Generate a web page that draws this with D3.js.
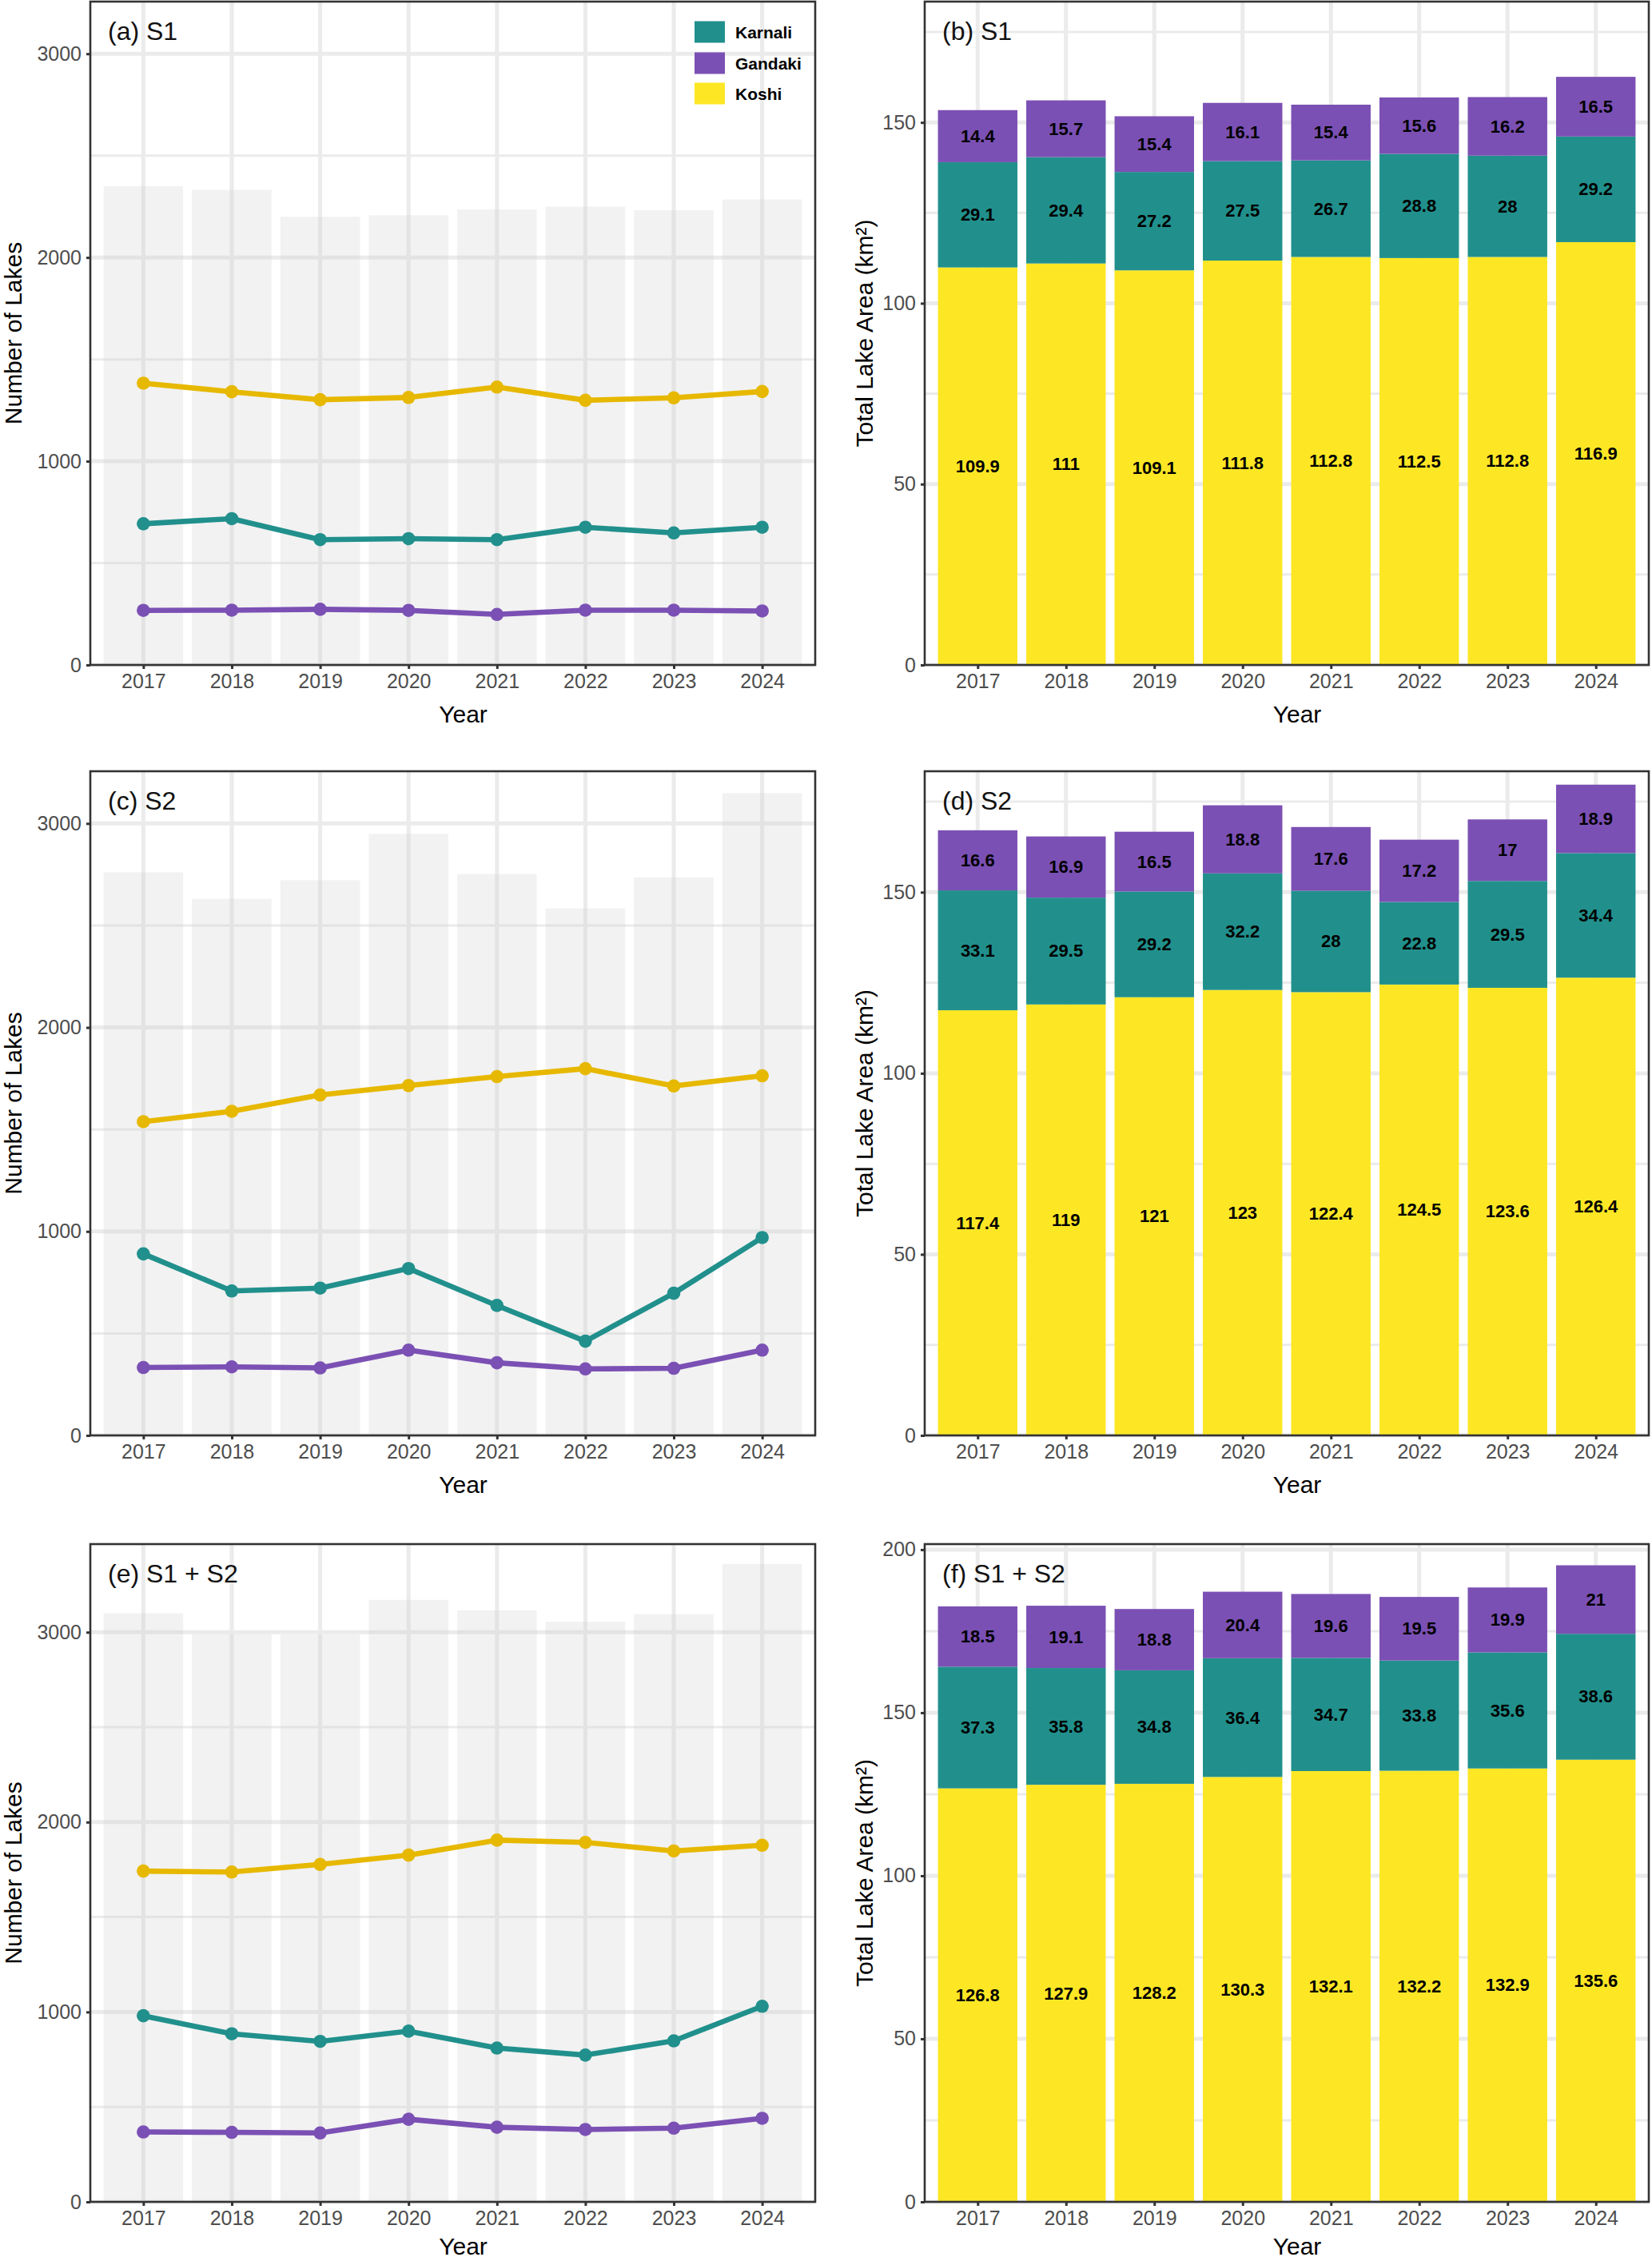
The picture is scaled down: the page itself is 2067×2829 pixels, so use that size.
<!DOCTYPE html>
<html><head><meta charset="utf-8">
<script src="https://cdn.jsdelivr.net/npm/d3@7"></script>
<style>
body{margin:0;background:#fff;}
svg text{font-family:"Liberation Sans",Arial,Helvetica,sans-serif;}
</style>
</head><body>
<svg id="chart" width="2067" height="2829"></svg>
<script>
// ---------------- DATA ----------------
const years = ["2017","2018","2019","2020","2021","2022","2023","2024"];
const basins = ["Karnali","Gandaki","Koshi"];

// Number of lakes (left panels)
const countKoshiS1   = [1383, 1341, 1302, 1313, 1364, 1299, 1311, 1342];
const countKarnaliS1 = [693, 718, 615, 620, 615, 676, 648, 676];
const countGandakiS1 = [268, 269, 273, 268, 248, 269, 269, 265];
const countTotalS1   = [2350, 2332, 2200, 2207, 2236, 2249, 2232, 2285];

const countKoshiS2   = [1538, 1589, 1669, 1715, 1759, 1798, 1713, 1763];
const countKarnaliS2 = [890, 708, 722, 818, 637, 462, 697, 970];
const countGandakiS2 = [333, 336, 331, 418, 356, 326, 329, 418];
const countTotalS2   = [2761, 2630, 2722, 2949, 2752, 2584, 2736, 3149];

const countKoshiS12   = [1742, 1737, 1777, 1826, 1905, 1893, 1848, 1878];
const countKarnaliS12 = [980, 885, 845, 899, 810, 773, 848, 1030];
const countGandakiS12 = [368, 366, 363, 435, 393, 381, 388, 440];
const countTotalS12   = [3100, 2990, 2988, 3170, 3115, 3055, 3095, 3360];

// Total lake area, km² (right panels)
const areaKoshiS1   = [109.9, 111, 109.1, 111.8, 112.8, 112.5, 112.8, 116.9];
const areaKarnaliS1 = [29.1, 29.4, 27.2, 27.5, 26.7, 28.8, 28, 29.2];
const areaGandakiS1 = [14.4, 15.7, 15.4, 16.1, 15.4, 15.6, 16.2, 16.5];

const areaKoshiS2   = [117.4, 119, 121, 123, 122.4, 124.5, 123.6, 126.4];
const areaKarnaliS2 = [33.1, 29.5, 29.2, 32.2, 28, 22.8, 29.5, 34.4];
const areaGandakiS2 = [16.6, 16.9, 16.5, 18.8, 17.6, 17.2, 17, 18.9];

const areaKoshiS12   = [126.8, 127.9, 128.2, 130.3, 132.1, 132.2, 132.9, 135.6];
const areaKarnaliS12 = [37.3, 35.8, 34.8, 36.4, 34.7, 33.8, 35.6, 38.6];
const areaGandakiS12 = [18.5, 19.1, 18.8, 20.4, 19.6, 19.5, 19.9, 21];

// Tick values
const countTicks = [0, 1000, 2000, 3000];
const countMinorTicks = [500, 1500, 2500];
const areaTicks = [0, 50, 100, 150];
const areaTicksF = [0, 50, 100, 150, 200];
const areaMinorTicks = [25, 75, 125, 175];

const panelTitles = ["(a) S1","(b) S1","(c) S2","(d) S2","(e) S1 + S2","(f) S1 + S2"];

// ---------------- STYLE / LAYOUT ----------------
const lineColor = {Karnali:"#21908C", Gandaki:"#7B50B4", Koshi:"#E7B800"};
const fillColor = {Karnali:"#21908C", Gandaki:"#7B50B4", Koshi:"#FDE725"};
const cols = [{x0:113, x1:1020}, {x0:1157, x1:2063}];
const rows = [{y0:2, y1:832}, {y0:965, y1:1796}, {y0:1932, y1:2755}];
const countMax = [3256, 3256, 3464];
const areaMax = [183.4, 183.4, 201.7];
const yearTitleOffset = [72, 72, 66];
const gridCol = "#EBEBEB";

const svg = d3.select("#chart");

function makeX(col) {
  return d3.scalePoint().domain(years).range([col.x0, col.x1]).padding(0.6);
}

function grid(g, x, y, col, row, major, minor) {
  const gg = g.append("g");
  minor.filter(v => v < y.domain()[1]).forEach(v => {
    gg.append("line").attr("x1", col.x0).attr("x2", col.x1)
      .attr("y1", y(v)).attr("y2", y(v))
      .attr("stroke", gridCol).attr("stroke-width", 3);
  });
  major.filter(v => v < y.domain()[1]).forEach(v => {
    gg.append("line").attr("x1", col.x0).attr("x2", col.x1)
      .attr("y1", y(v)).attr("y2", y(v))
      .attr("stroke", gridCol).attr("stroke-width", 5);
  });
  years.forEach(yr => {
    gg.append("line").attr("x1", x(yr)).attr("x2", x(yr))
      .attr("y1", row.y0).attr("y2", row.y1)
      .attr("stroke", gridCol).attr("stroke-width", 5);
  });
}

function axes(g, x, y, col, row, ticks) {
  const ax = g.append("g").attr("transform", `translate(0,${row.y1})`)
    .call(d3.axisBottom(x).tickSize(5).tickPadding(6));
  const ay = g.append("g").attr("transform", `translate(${col.x0},0)`)
    .call(d3.axisLeft(y).tickValues(ticks).tickFormat(d3.format("d")).tickSize(5).tickPadding(6));
  [ax, ay].forEach(a => {
    a.select(".domain").remove();
    a.selectAll(".tick line").attr("stroke", "#333333").attr("stroke-width", 3);
    a.selectAll(".tick text").attr("fill", "#4D4D4D").attr("font-size", 25)
      .attr("font-family", "'Liberation Sans', Arial, sans-serif");
  });
}

function frame(g, r, col, row, title, ytitle, ytitleX) {
  g.append("rect").attr("x", col.x0).attr("y", row.y0)
    .attr("width", col.x1 - col.x0).attr("height", row.y1 - row.y0)
    .attr("fill", "none").attr("stroke", "#333333").attr("stroke-width", 2.6);
  g.append("text").attr("x", col.x0 + 22).attr("y", row.y0 + 48)
    .attr("font-size", 32).attr("fill", "#111").text(title);
  g.append("text").attr("x", (col.x0 + col.x1) / 2 + 13).attr("y", row.y1 + yearTitleOffset[r])
    .attr("text-anchor", "middle").attr("font-size", 30).attr("fill", "#000").text("Year");
  const cy = (row.y0 + row.y1) / 2;
  g.append("text").attr("transform", `translate(${ytitleX},${cy}) rotate(-90)`)
    .attr("text-anchor", "middle").attr("font-size", 30).attr("fill", "#000").text(ytitle);
}

function linePanel(r, series, totals, title, withLegend) {
  const col = cols[0], row = rows[r];
  const g = svg.append("g");
  const x = makeX(col);
  const y = d3.scaleLinear().domain([0, countMax[r]]).range([row.y1, row.y0]);
  const bw = x.step() * 0.9;
  grid(g, x, y, col, row, countTicks, countMinorTicks);
  g.append("g").selectAll("rect").data(totals).join("rect")
    .attr("x", (d, i) => x(years[i]) - bw / 2).attr("width", bw)
    .attr("y", d => y(d)).attr("height", d => y(0) - y(d))
    .attr("fill", "#CCCCCC").attr("fill-opacity", 0.25);
  const line = d3.line().x((d, i) => x(years[i])).y(d => y(d));
  series.forEach(s => {
    g.append("path").datum(s.values).attr("d", line)
      .attr("fill", "none").attr("stroke", lineColor[s.name]).attr("stroke-width", 6.6)
      .attr("stroke-linejoin", "round");
    g.append("g").selectAll("circle").data(s.values).join("circle")
      .attr("cx", (d, i) => x(years[i])).attr("cy", d => y(d)).attr("r", 8.3)
      .attr("fill", lineColor[s.name]);
  });
  frame(g, r, col, row, title, "Number of Lakes", 27);
  axes(g, x, y, col, row, countTicks);
  if (withLegend) {
    const lg = g.append("g");
    const centers = [40, 79, 117];
    basins.forEach((b, i) => {
      lg.append("rect").attr("x", 869).attr("y", centers[i] - 13.5)
        .attr("width", 38).attr("height", 27).attr("fill", fillColor[b]);
      lg.append("text").attr("x", 920).attr("y", centers[i])
        .attr("dominant-baseline", "central").attr("font-size", 21)
        .attr("font-weight", "bold").attr("fill", "#000").text(b);
    });
  }
}

function barPanel(r, koshi, karnali, gandaki, title, ticks) {
  const col = cols[1], row = rows[r];
  const g = svg.append("g");
  const x = makeX(col);
  const y = d3.scaleLinear().domain([0, areaMax[r]]).range([row.y1, row.y0]);
  const bw = x.step() * 0.9;
  grid(g, x, y, col, row, ticks, areaMinorTicks);
  const table = years.map((yr, i) => ({year: yr, Koshi: koshi[i], Karnali: karnali[i], Gandaki: gandaki[i]}));
  const stacked = d3.stack().keys(["Koshi", "Karnali", "Gandaki"])(table);
  stacked.forEach(layer => {
    const lg = g.append("g");
    lg.selectAll("rect").data(layer).join("rect")
      .attr("x", d => x(d.data.year) - bw / 2).attr("width", bw)
      .attr("y", d => y(d[1])).attr("height", d => y(d[0]) - y(d[1]))
      .attr("fill", fillColor[layer.key]);
  });
  stacked.forEach(layer => {
    g.append("g").selectAll("text").data(layer).join("text")
      .attr("x", d => x(d.data.year)).attr("y", d => y((d[0] + d[1]) / 2))
      .attr("text-anchor", "middle").attr("dominant-baseline", "central")
      .attr("font-size", 22).attr("font-weight", "bold").attr("fill", "#000")
      .text(d => String(d.data[layer.key]));
  });
  frame(g, r, col, row, title, "Total Lake Area (km²)", 1092);
  axes(g, x, y, col, row, ticks);
}

linePanel(0, [
  {name: "Koshi", values: countKoshiS1},
  {name: "Karnali", values: countKarnaliS1},
  {name: "Gandaki", values: countGandakiS1}
], countTotalS1, panelTitles[0], true);
barPanel(0, areaKoshiS1, areaKarnaliS1, areaGandakiS1, panelTitles[1], areaTicks);

linePanel(1, [
  {name: "Koshi", values: countKoshiS2},
  {name: "Karnali", values: countKarnaliS2},
  {name: "Gandaki", values: countGandakiS2}
], countTotalS2, panelTitles[2], false);
barPanel(1, areaKoshiS2, areaKarnaliS2, areaGandakiS2, panelTitles[3], areaTicks);

linePanel(2, [
  {name: "Koshi", values: countKoshiS12},
  {name: "Karnali", values: countKarnaliS12},
  {name: "Gandaki", values: countGandakiS12}
], countTotalS12, panelTitles[4], false);
barPanel(2, areaKoshiS12, areaKarnaliS12, areaGandakiS12, panelTitles[5], areaTicksF);
</script>
</body></html>
